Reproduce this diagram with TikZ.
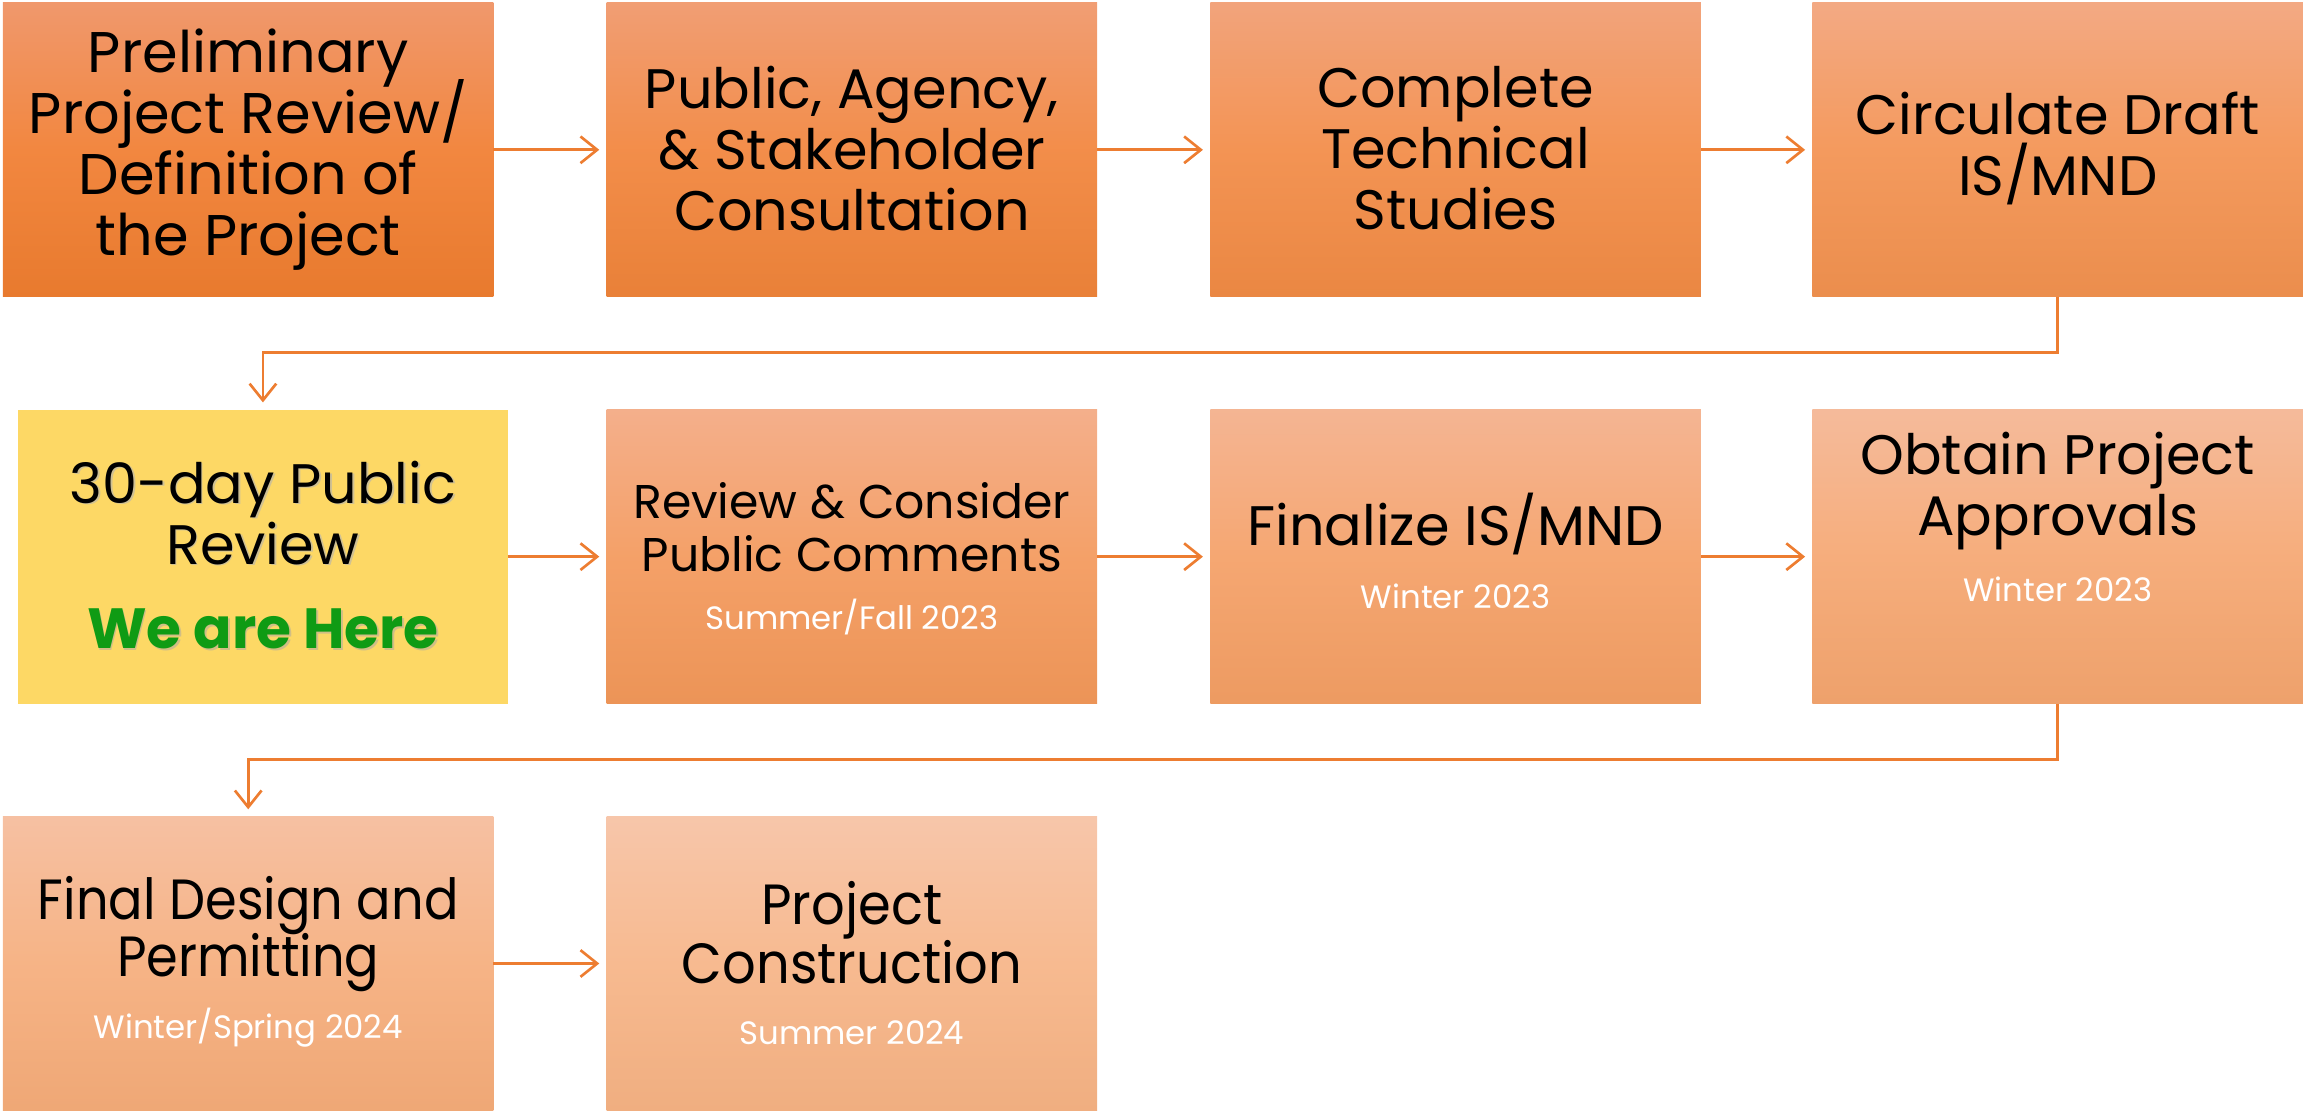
\documentclass[tikz,border=0pt]{standalone}
\usepackage{fontspec}
\usepackage{graphicx}
\setmainfont{Poppins}
\usetikzlibrary{arrows.meta,calc}
\definecolor{conn}{HTML}{ED7D31}
\definecolor{topA}{HTML}{F0986C}
\definecolor{topB}{HTML}{F7C6AA}
\definecolor{midA}{HTML}{F28740}
\definecolor{midB}{HTML}{F7BA90}
\definecolor{botA}{HTML}{E87A2E}
\definecolor{botB}{HTML}{F0AE80}
\definecolor{yel}{HTML}{FDD865}
\definecolor{grn}{HTML}{0F9B14}
\tikzset{
  stepbox/.style={rectangle, draw=none, inner sep=0pt, outer sep=0pt,
    minimum width=147.17pt, minimum height=88.13pt,
    top color=topA!#1!topB, bottom color=botA!#1!botB, middle color=midA!#1!midB},
  yelbox/.style={rectangle, draw=none, fill=yel, inner sep=0pt, outer sep=0pt,
    minimum width=147.17pt, minimum height=88.13pt},
  maintxt/.style={align=center, inner sep=0pt, font=\fontsize{16.7}{18.3}\selectfont,
    execute at begin node={\lineskiplimit=-100pt\lineskip=0pt}},
  midtxt/.style={align=center, inner sep=0pt, font=\fontsize{14.2}{16.1}\selectfont,
    execute at begin node={\lineskiplimit=-100pt\lineskip=0pt}},
  subtxt/.style={align=center, inner sep=0pt, text=white, font=\fontsize{9.7}{11}\selectfont},
  conn/.style={draw=conn, line width=0.8pt, -{Straight Barb[length=5pt,width=8pt,line width=0.8pt]}, shorten >=2.2pt},
}
\newcommand{\cnd}[1]{\scalebox{0.9}[1]{#1}}
\newcommand{\cnf}[1]{\scalebox{0.93}[1]{#1}}
\begin{document}
\begin{tikzpicture}[x=0.44064pt, y=-0.44064pt]
\useasboundingbox (0,0) rectangle (1568,756);
% boxes
\node[stepbox=100]  (b1)  at (169,102) {};
\node[stepbox=87.5] (b2)  at (580,102) {};
\node[stepbox=75]   (b3)  at (991,102) {};
\node[stepbox=62.5] (b4)  at (1401,102) {};
\node[yelbox]       (b5)  at (179,379) {};
\node[stepbox=50]   (b6)  at (580,379) {};
\node[stepbox=37.5] (b7)  at (991,379) {};
\node[stepbox=25]   (b8)  at (1401,379) {};
\node[stepbox=12.5] (b9)  at (169,656) {};
\node[stepbox=0]    (b10) at (580,656) {};
% texts
\node[maintxt, font=\fontsize{17.2}{18.3}\selectfont] (t1) at (169,102) {Preliminary\\Project Review/\\Definition of\\the Project};
\node[maintxt] (t2) at (580,101) {Public, Agency,\\\& Stakeholder\\Consultation};
\node[maintxt] (t3) at (991,101) {Complete\\Technical\\Studies};
\node[maintxt] (t4) at (1401,101) {Circulate Draft\\IS/MND};
\node[maintxt, text=black!30, opacity=0.6] at ($(179,349)+(1.2,1.2)$) {30-day Public\\Review};
\node[maintxt] (t5) at (179,349) {30-day Public\\Review};
\node[maintxt, font=\fontsize{17}{18.3}\selectfont\bfseries, text=black!35, opacity=0.5] at ($(179,428)+(1.2,1.2)$) {We are Here};
\node[maintxt, font=\fontsize{17}{18.3}\selectfont\bfseries, text=grn] (h5) at (179,428) {We are Here};
\node[midtxt] (t6) at (580,359) {Review \& Consider\\Public Comments};
\node[subtxt] (s6) at (580,420) {Summer/Fall 2023};
\node[maintxt] (t7) at (991,357) {Finalize IS/MND};
\node[subtxt] (s7) at (991,406) {Winter 2023};
\node[maintxt] (t8) at (1401,334) {Obtain Project\\Approvals};
\node[subtxt] (s8) at (1401,401) {Winter 2023};
\node[maintxt, font=\fontsize{17}{17}\selectfont] (t9) at (169,636) {\cnd{Final Design and}\\\cnd{Permitting}};
\node[subtxt] (s9) at (169,700) {Winter/Spring 2024};
\node[maintxt, font=\fontsize{17}{17.6}\selectfont] (t10) at (580,635) {\cnf{Project}\\\cnf{Construction}};
\node[subtxt] (s10) at (580,703) {Summer 2024};
% connectors
\draw[conn] (b1.east) -- (b2.west);
\draw[conn] (b2.east) -- (b3.west);
\draw[conn] (b3.east) -- (b4.west);
\draw[conn] (b4.south) -- ++(0,38) -| (b5.north);
\draw[conn] (b5.east) -- (b6.west);
\draw[conn] (b6.east) -- (b7.west);
\draw[conn] (b7.east) -- (b8.west);
\draw[conn] (b8.south) -- ++(0,38) -| (b9.north);
\draw[conn] (b9.east) -- (b10.west);
\end{tikzpicture}
\end{document}
